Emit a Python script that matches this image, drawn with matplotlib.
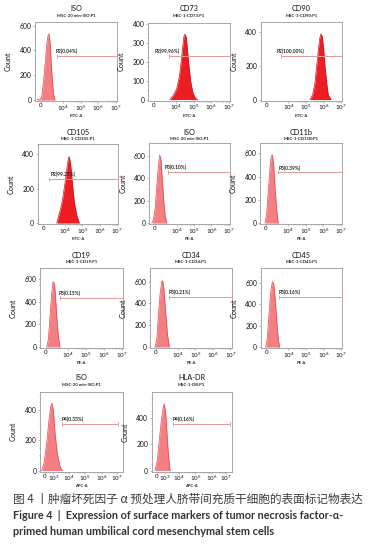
import matplotlib
matplotlib.use('Agg')
import matplotlib.pyplot as plt
from matplotlib.ticker import FixedLocator, MultipleLocator
import numpy as np

W, H = 374, 545
fig = plt.figure(figsize=(W / 100, H / 100), dpi=100)
FAM = ['Lato', 'DejaVu Sans']
plt.rcParams['font.family'] = FAM
plt.rcParams['mathtext.fontset'] = 'custom'
plt.rcParams['mathtext.rm'] = 'Lato'
plt.rcParams['mathtext.it'] = 'Lato:italic'
plt.rcParams['mathtext.bf'] = 'Lato:bold'

# ---------------- data ----------------
titles = ['ISO', 'CD73', 'CD90', 'CD105', 'ISO', 'CD11b', 'CD19', 'CD34', 'CD45', 'ISO', 'HLA-DR']
subtitles = ['MSC-20 min-ISO:P1', 'MSC-1-CD73:P1', 'MSC-1-CD90:P1', 'MSC-1-CD105:P1',
             'MSC-20 min-ISO:P1', 'MSC-1-CD11B:P1', 'MSC-1-CD19:P1', 'MSC-1-CD34:P1',
             'MSC-1-CD45:P1', 'MSC-20 min-ISO:P1', 'MSC-1-DR:P1']
channels = ['FITC-A'] * 4 + ['PE-A'] * 5 + ['APC-A'] * 2
gate_names = ['P2'] * 4 + ['P3'] * 5 + ['P4'] * 2
gate_pct = ['0.04%', '99.96%', '100.00%', '99.25%', '0.10%', '0.39%',
            '0.15%', '0.21%', '0.16%', '0.33%', '0.16%']

# histogram outlines: x in display channel (0-1000 across the axis), y = count
iso_fitc_x = [28, 61, 81, 102, 122, 142, 158, 171, 183, 195, 211, 224, 244]
iso_fitc_y = [5, 7, 22, 138, 283, 442, 521, 535, 468, 336, 164, 59, 0]
cd73_x = [268, 309, 350, 382, 407, 423, 439, 451, 467, 479, 500, 521, 545, 573, 602]
cd73_y = [0, 23, 58, 120, 209, 279, 336, 345, 329, 271, 173, 94, 40, 11, 0]
cd90_x = [604, 637, 665, 686, 706, 723, 739, 755, 772, 788, 809, 828, 862]
cd90_y = [0, 30, 99, 199, 294, 364, 390, 374, 294, 195, 96, 28, 0]
cd105_x = [236, 256, 285, 310, 335, 360, 380, 392, 409, 430, 454, 484, 516]
cd105_y = [0, 35, 84, 142, 220, 307, 375, 385, 336, 229, 122, 45, 0]
iso_pe_x = [30, 50, 71, 92, 112, 129, 145, 161, 178, 195, 216]
iso_pe_y = [0, 29, 118, 325, 502, 606, 561, 384, 207, 74, 0]
cd11b_x = [61, 81, 101, 122, 137, 150, 166, 182, 203, 222]
cd11b_y = [0, 81, 283, 484, 577, 588, 499, 311, 110, 0]
cd19_x = [80, 100, 120, 141, 157, 173, 185, 201, 221, 241]
cd19_y = [0, 65, 270, 475, 577, 563, 475, 270, 94, 0]
cd34_x = [61, 82, 102, 122, 143, 155, 171, 192, 212, 236]
cd34_y = [0, 67, 280, 479, 600, 609, 524, 311, 128, 0]
cd45_x = [61, 81, 102, 123, 142, 159, 175, 196, 216, 233]
cd45_y = [0, 84, 316, 517, 609, 595, 470, 254, 68, 0]
iso_apc_x = [20, 48, 80, 108, 128, 144, 160, 181, 208, 241, 269]
iso_apc_y = [0, 49, 181, 335, 422, 445, 400, 247, 115, 26, 0]
hladr_x = [41, 70, 95, 120, 145, 158, 175, 191, 208, 229]
hladr_y = [0, 76, 228, 380, 481, 502, 431, 279, 127, 0]

hist_x = [iso_fitc_x, cd73_x, cd90_x, cd105_x, iso_pe_x, cd11b_x, cd19_x, cd34_x, cd45_x, iso_apc_x, hladr_x]
hist_y = [iso_fitc_y, cd73_y, cd90_y, cd105_y, iso_pe_y, cd11b_y, cd19_y, cd34_y, cd45_y, iso_apc_y, hladr_y]
strong = [False, True, True, True, False, False, False, False, False, False, False]

gate_start = [272, 260, 249, 144, 228, 222, 241, 236, 228, 261, 270]
gate_end = [1000, 1000, 993, 1000, 1000, 1000, 1000, 1000, 1000, 935, 978]
gate_level = [354, 230, 258, 255, 452, 436, 436, 457, 465, 308, 350]
label_x = [256, 85, 196, 161, 195, 222, 229, 224, 216, 261, 262]

y_max = [630, 407, 461, 458, 715, 692, 697, 722, 734, 521, 590]
y_step = [200, 100, 200, 200, 200, 200, 200, 200, 200, 200, 200]

tick_labels_a = ['0', r'$\mathregular{10^4}$', r'$\mathregular{10^5}$',
                 r'$\mathregular{10^6}$', r'$\mathregular{10^7}$']
tick_labels_b = ['0', r'$\mathregular{10^3}$', r'$\mathregular{10^4}$', r'$\mathregular{10^5}$',
                 r'$\mathregular{10^6}$', r'$\mathregular{10^7}$']

# ---------------- layout (pixels) ----------------
boxes = [(35, 22, 117, 101), (148, 22.5, 230, 100.5), (260.7, 22, 342.3, 100.5),
         (37.7, 144, 118.3, 224), (149.3, 142.7, 230, 224), (260, 142.7, 342.3, 224),
         (40, 268.3, 123, 348), (150, 268.3, 231.7, 348), (260.7, 268.3, 342.3, 348),
         (40, 391.7, 123, 471.5), (151.7, 392.3, 231.7, 471.5)]
title_y = [8.3, 8.3, 8.3, 132.7, 132.7, 132.7, 255, 255, 255, 377.3, 377.3]
sub_y = [16, 16, 16, 139.3, 139.3, 139.3, 262.3, 262.3, 262.3, 385, 385]
xlab_y = [116, 116, 116, 238.5, 238.5, 238.5, 363, 363, 363, 486, 486]
ticks_a = [70, 340, 555, 770, 985]
ticks_b = [62, 162, 345, 545, 750, 930]

LIGHT_FILL, LIGHT_EDGE = '#f47f83', '#e5474d'
RED_FILL, RED_EDGE = '#ee1d24', '#cf1219'
GATE = '#e09a9a'
SPINE = '#9a9a9a'

for i in range(11):
    l, t, r, b = boxes[i]
    ax = fig.add_axes([l / W, 1 - b / H, (r - l) / W, (b - t) / H])
    fill, edge = (RED_FILL, RED_EDGE) if strong[i] else (LIGHT_FILL, LIGHT_EDGE)
    ax.fill_between(hist_x[i], hist_y[i], 0, color=fill, lw=0, zorder=2)
    ax.plot(hist_x[i], hist_y[i], color=edge, lw=0.5, zorder=3)
    ax.set_xlim(0, 1000)
    ax.set_ylim(-0.012 * y_max[i], y_max[i])

    # gate
    ax.plot([gate_start[i], gate_end[i]], [gate_level[i]] * 2, color=GATE, lw=0.7,
            marker='|', markersize=3.2, markeredgewidth=0.7, zorder=4, clip_on=False)
    ax.annotate(f'{gate_names[i]}({gate_pct[i]})', (label_x[i], gate_level[i]),
                xytext=(0, 1.2), textcoords='offset points', fontsize=3.5,
                fontweight='bold', color='#222222', ha='left', va='bottom', zorder=5)

    # axes styling
    for s in ax.spines.values():
        s.set_color(SPINE)
        s.set_linewidth(0.6)
    if i < 9:
        ticks, labels = ticks_a, tick_labels_a
    else:
        ticks, labels = ticks_b, tick_labels_b
    ax.xaxis.set_major_locator(FixedLocator(ticks))
    ax.set_xticklabels(labels)
    major = ticks[1:]
    minors = []
    for a, c in zip(major[:-1], major[1:]):
        minors += [a + np.log10(k) * (c - a) for k in range(2, 10)]
    ax.xaxis.set_minor_locator(FixedLocator(minors))
    ax.yaxis.set_major_locator(MultipleLocator(y_step[i]))
    ax.yaxis.set_minor_locator(MultipleLocator(y_step[i] / 4))
    ax.tick_params(which='major', length=1.5, width=0.5, color=SPINE, labelsize=4.9,
                   pad=1.0, labelcolor='#111111')
    ax.tick_params(axis='x', which='major', pad=0.2, labelsize=4.5)
    ax.tick_params(which='minor', length=0.9, width=0.4, color=SPINE)
    ax.set_ylabel('Count', fontsize=5.2, labelpad=0, color='#111111')
    ax.yaxis.set_label_coords(-23.0 / (r - l), 0.5)

    cx = (l + r) / 2
    fig.text(cx / W, 1 - title_y[i] / H, titles[i], ha='center', va='center',
             fontsize=5.3, color='#111111')
    fig.text(cx / W, 1 - sub_y[i] / H, subtitles[i], ha='center', va='center',
             fontsize=3.1, fontweight='bold', color='#222222')
    fig.text(cx / W, 1 - xlab_y[i] / H, channels[i], ha='center', va='center',
             fontsize=3.0, fontweight='bold', color='#222222')

# ---------------- caption ----------------
renderer = fig.canvas.get_renderer()


def fit_text(x, y, s, target_w, **kw):
    txt = fig.text(x / W, 1 - y / H, s, ha='left', va='center', **kw)
    w = txt.get_window_extent(renderer).width
    txt.set_fontsize(txt.get_fontsize() * target_w / w)
    return txt


fit_text(13.3, 499.3, '图 4 丨肿瘤坏死因子 α 预处理人脐带间充质干细胞的表面标记物表达', 352,
         fontsize=8, color='#3c3c3c', family=['Noto Sans CJK SC', 'DejaVu Sans'])
fit_text(13.3, 515.7, 'Figure 4  |  Expression of surface markers of tumor necrosis factor-α-', 333,
         fontsize=7, fontweight='bold', color='#333333', family=FAM)
fit_text(13.3, 531.7, 'primed human umbilical cord mesenchymal stem cells', 263,
         fontsize=7, fontweight='bold', color='#333333', family=FAM)

fig.savefig('out.png', dpi=100)
